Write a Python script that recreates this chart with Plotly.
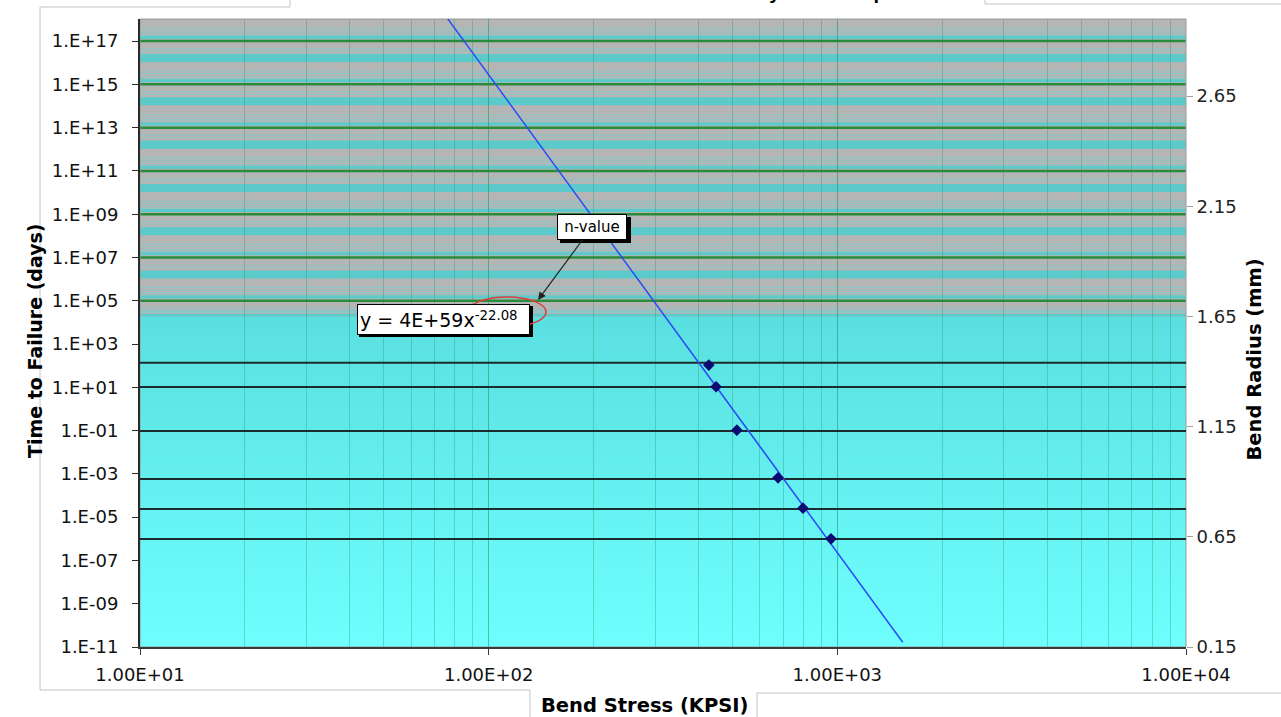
import plotly.graph_objects as go

# ---------------- data ----------------
bend_stress_kpsi = [428, 449, 515, 676, 797, 959]
time_to_failure_days = [107, 10.6, 0.105, 6.6e-4, 2.6e-5, 1.0e-6]
bend_radius_mm = [1.44, 1.33, 1.13, 0.912, 0.776, 0.64]

# power-law trendline end points (y = 4E+59 x^-22.08)
trend_x = [72, 1540]
trend_y = [3.9e18, 1.66e-11]

x_tickvals = [10, 100, 1000, 10000]
x_ticktext = ["1.00E+01", "1.00E+02", "1.00E+03", "1.00E+04"]
y_tickvals = [1e-11, 1e-9, 1e-7, 1e-5, 1e-3, 1e-1, 1e1, 1e3, 1e5, 1e7, 1e9, 1e11, 1e13, 1e15, 1e17]
y_ticktext = ["1.E-11", "1.E-09", "1.E-07", "1.E-05", "1.E-03", "1.E-01", "1.E+01", "1.E+03",
              "1.E+05", "1.E+07", "1.E+09", "1.E+11", "1.E+13", "1.E+15", "1.E+17"]
r_tickvals = [0.15, 0.65, 1.15, 1.65, 2.15, 2.65]
r_ticktext = ["0.15", "0.65", "1.15", "1.65", "2.15", "2.65"]

# ---------------- layout constants ----------------
W, H = 1281, 717
PL, PR, PT, PB = 140, 1186, 19, 647
YLOG_MIN, YLOG_MAX = -11.0, 18.02
R_MIN, R_MAX = 0.15, 3.0
GRAY_FROM_R = 1.65          # gray striped background above this bend radius
FONT = "DejaVu Sans, Verdana, sans-serif"
TFONT = "Liberation Sans, Arial, sans-serif"


def px_x(px):
    return (px - PL) / (PR - PL)


def px_y(py):
    return (PB - py) / (PB - PT)


def log_paper(v_log):
    return (v_log - YLOG_MIN) / (YLOG_MAX - YLOG_MIN)


def r_paper(r):
    return (r - R_MIN) / (R_MAX - R_MIN)


def hexmix(c1, c2, t):
    a = [int(c1[i:i + 2], 16) for i in (1, 3, 5)]
    b = [int(c2[i:i + 2], 16) for i in (1, 3, 5)]
    return "#%02x%02x%02x" % tuple(round(a[k] + (b[k] - a[k]) * t) for k in range(3))


shapes = []
gray_bottom = r_paper(GRAY_FROM_R)

# cyan gradient region
n = 30
for i in range(n):
    y0 = gray_bottom * i / n
    y1 = gray_bottom * (i + 1) / n + 0.001
    col = hexmix("#6effff", "#5adfdf", (i + 0.5) / n)
    shapes.append(dict(type="rect", xref="paper", yref="paper", x0=0, x1=1, y0=y0, y1=y1,
                       fillcolor=col, line=dict(width=0), layer="below"))

# gray striped region
shapes.append(dict(type="rect", xref="paper", yref="paper", x0=0, x1=1, y0=gray_bottom, y1=1,
                   fillcolor="#b5b5b5", line=dict(width=0), layer="below"))
light = "rgba(120,205,205,0.7)"
strong = "#5ccaca"
stripes = [(0.32, 0.36, light), (0.44, 0.48, light), (0.60, 0.97, strong),
           (1.37, 1.41, light), (1.48, 1.52, light), (1.60, 1.64, light),
           (1.70, 1.75, light), (1.76, 1.90, strong)]
for g in range(19, 3, -2):
    for a, b, c in stripes:
        y1 = log_paper(g - a)
        y0 = log_paper(g - b)
        y0c, y1c = max(y0, gray_bottom), min(y1, 1.0)
        if y1c > y0c:
            shapes.append(dict(type="rect", xref="paper", yref="paper", x0=0, x1=1,
                               y0=y0c, y1=y1c, fillcolor=c, line=dict(width=0), layer="below"))
shapes.append(dict(type="rect", xref="paper", yref="paper", x0=0, x1=1,
                   y0=gray_bottom + 0.006, y1=gray_bottom + 0.009, fillcolor=light,
                   line=dict(width=0), layer="below"))
# green lines at labelled decades in gray region
for g in range(17, 3, -2):
    yp = log_paper(g)
    if yp > gray_bottom:
        shapes.append(dict(type="line", xref="paper", yref="paper", x0=0, x1=1, y0=yp, y1=yp,
                           line=dict(color="#2a8c3a", width=2.5), layer="below"))

# plot-area border
shapes.append(dict(type="rect", xref="paper", yref="paper", x0=0, x1=1, y0=0, y1=1,
                   line=dict(color="#9a9a9a", width=1), layer="below"))

# chart-area frame pieces
frame = "#c4c4c4"
for (xa, ya, xb, yb) in [(40, 7, 290, 7), (290, 7, 290, -2), (40, 7, 40, 690),
                         (40, 690, 530, 690), (530, 690, 530, 720),
                         (757, 693, 757, 720), (757, 693, 1285, 693),
                         (985, 4, 1285, 4), (985, 4, 985, -2)]:
    shapes.append(dict(type="line", xref="paper", yref="paper", x0=px_x(xa), y0=px_y(ya),
                       x1=px_x(xb), y1=px_y(yb), line=dict(color=frame, width=1), layer="above"))

# annotation drop shadows
shapes.append(dict(type="rect", xref="paper", yref="paper", x0=px_x(560), x1=px_x(631),
                   y0=px_y(243), y1=px_y(217), fillcolor="#000000", line=dict(width=0), layer="above"))
shapes.append(dict(type="rect", xref="paper", yref="paper", x0=px_x(359), x1=px_x(533),
                   y0=px_y(337), y1=px_y(306), fillcolor="#000000", line=dict(width=0), layer="above"))

fig = go.Figure()

# bend radius reference lines (base axis 'y', right side)
for r in bend_radius_mm:
    fig.add_trace(go.Scatter(x=[x_tickvals[0], x_tickvals[-1]], y=[r, r], mode="lines",
                             line=dict(color="#1c2b2b", width=2), yaxis="y", xaxis="x",
                             showlegend=False, hoverinfo="skip"))

# trendline
fig.add_trace(go.Scatter(x=trend_x, y=trend_y, mode="lines", yaxis="y2",
                         line=dict(color="#2a4cf5", width=1.5), showlegend=False))
# measured points
fig.add_trace(go.Scatter(x=bend_stress_kpsi, y=time_to_failure_days, mode="markers", yaxis="y2",
                         marker=dict(symbol="diamond", size=9, color="#0a0a70"),
                         showlegend=False))

annotations = [
    # title (only descenders visible at top edge)
    dict(text="<b>Time to Failure vs. Bend Stress by Test Sample</b>", xref="paper", yref="paper",
         x=px_x(678), y=px_y(-8), xanchor="center", yanchor="middle", showarrow=False,
         font=dict(family=TFONT, size=20, color="#000")),
    dict(text="<b>Time to Failure (days)</b>", xref="paper", yref="paper", x=px_x(22), y=px_y(341),
         textangle=-90, showarrow=False, font=dict(family=FONT, size=19, color="#000")),
    dict(text="<b>Bend Radius (mm)</b>", xref="paper", yref="paper", x=px_x(1268), y=px_y(360),
         textangle=-90, showarrow=False, font=dict(family=FONT, size=19.5, color="#000")),
    dict(text="<b>Bend Stress (KPSI)</b>", xref="paper", yref="paper", x=px_x(644), y=px_y(692),
         xanchor="center", yanchor="top", showarrow=False,
         font=dict(family=FONT, size=19.5, color="#000")),
    # n-value box with arrow
    dict(text="n-value", xref="paper", yref="paper", x=px_x(538), y=px_y(300),
         ax=54, ay=-73, showarrow=True, arrowhead=2, arrowsize=1.3, arrowwidth=1.2,
         arrowcolor="#222", bgcolor="#ffffff", bordercolor="#000", borderwidth=1, borderpad=2,
         width=64, height=20, font=dict(family=FONT, size=15, color="#000")),
    # equation box
    dict(text="y = 4E+59x<sup>-22.08</sup>", xref="paper", yref="paper",
         x=px_x(443), y=px_y(319), xanchor="center", yanchor="middle", showarrow=False,
         bgcolor="#ffffff", bordercolor="#000", borderwidth=1, borderpad=2, width=167, height=25,
         align="left", font=dict(family=FONT, size=19, color="#000")),
]

shapes_above = [dict(type="circle", xref="paper", yref="paper", x0=px_x(468), x1=px_x(546),
                     y0=px_y(327), y1=px_y(297), line=dict(color="#e03a3a", width=1.5),
                     layer="above")]

fig.update_layout(
    width=W, height=H, autosize=False,
    margin=dict(l=PL, r=W - PR, t=PT, b=H - PB, pad=0),
    paper_bgcolor="#ffffff", plot_bgcolor="#6effff",
    font=dict(family=FONT, size=18, color="#000"),
    showlegend=False,
    shapes=shapes + shapes_above,
    annotations=annotations,
    xaxis=dict(type="log", range=[1, 4], tickvals=x_tickvals, ticktext=x_ticktext,
               showgrid=True, gridcolor="rgba(30,140,80,0.30)", gridwidth=1,
               minor=dict(showgrid=True, gridcolor="rgba(30,140,80,0.30)", gridwidth=1,
                          dtick="D1", ticks=""),
               showline=True, linecolor="#3a3a3a", linewidth=2, ticks="outside", ticklen=6,
               tickcolor="#3a3a3a", ticklabelstandoff=4, zeroline=False,
               tickfont=dict(family=FONT, size=18, color="#111")),
    yaxis=dict(range=[R_MIN, R_MAX], side="right", tickvals=r_tickvals, ticktext=r_ticktext,
               showgrid=False, zeroline=False, showline=False, ticks="outside", ticklen=6,
               tickcolor="#a0a0a0", ticklabelstandoff=0,
               tickfont=dict(family=FONT, size=18, color="#222")),
    yaxis2=dict(type="log", range=[YLOG_MIN, YLOG_MAX], overlaying="y", side="left",
                tickvals=y_tickvals, ticktext=y_ticktext, showgrid=False, zeroline=False,
                showline=True, linecolor="#2a2a2a", linewidth=2, ticks="outside", ticklen=6,
                tickcolor="#2a2a2a", ticklabelstandoff=10,
                tickfont=dict(family=FONT, size=18, color="#111")),
)

fig.write_html("out.html", config={"displayModeBar": False},
               post_script="document.body.style.margin='0px';document.body.style.overflow='hidden';")
